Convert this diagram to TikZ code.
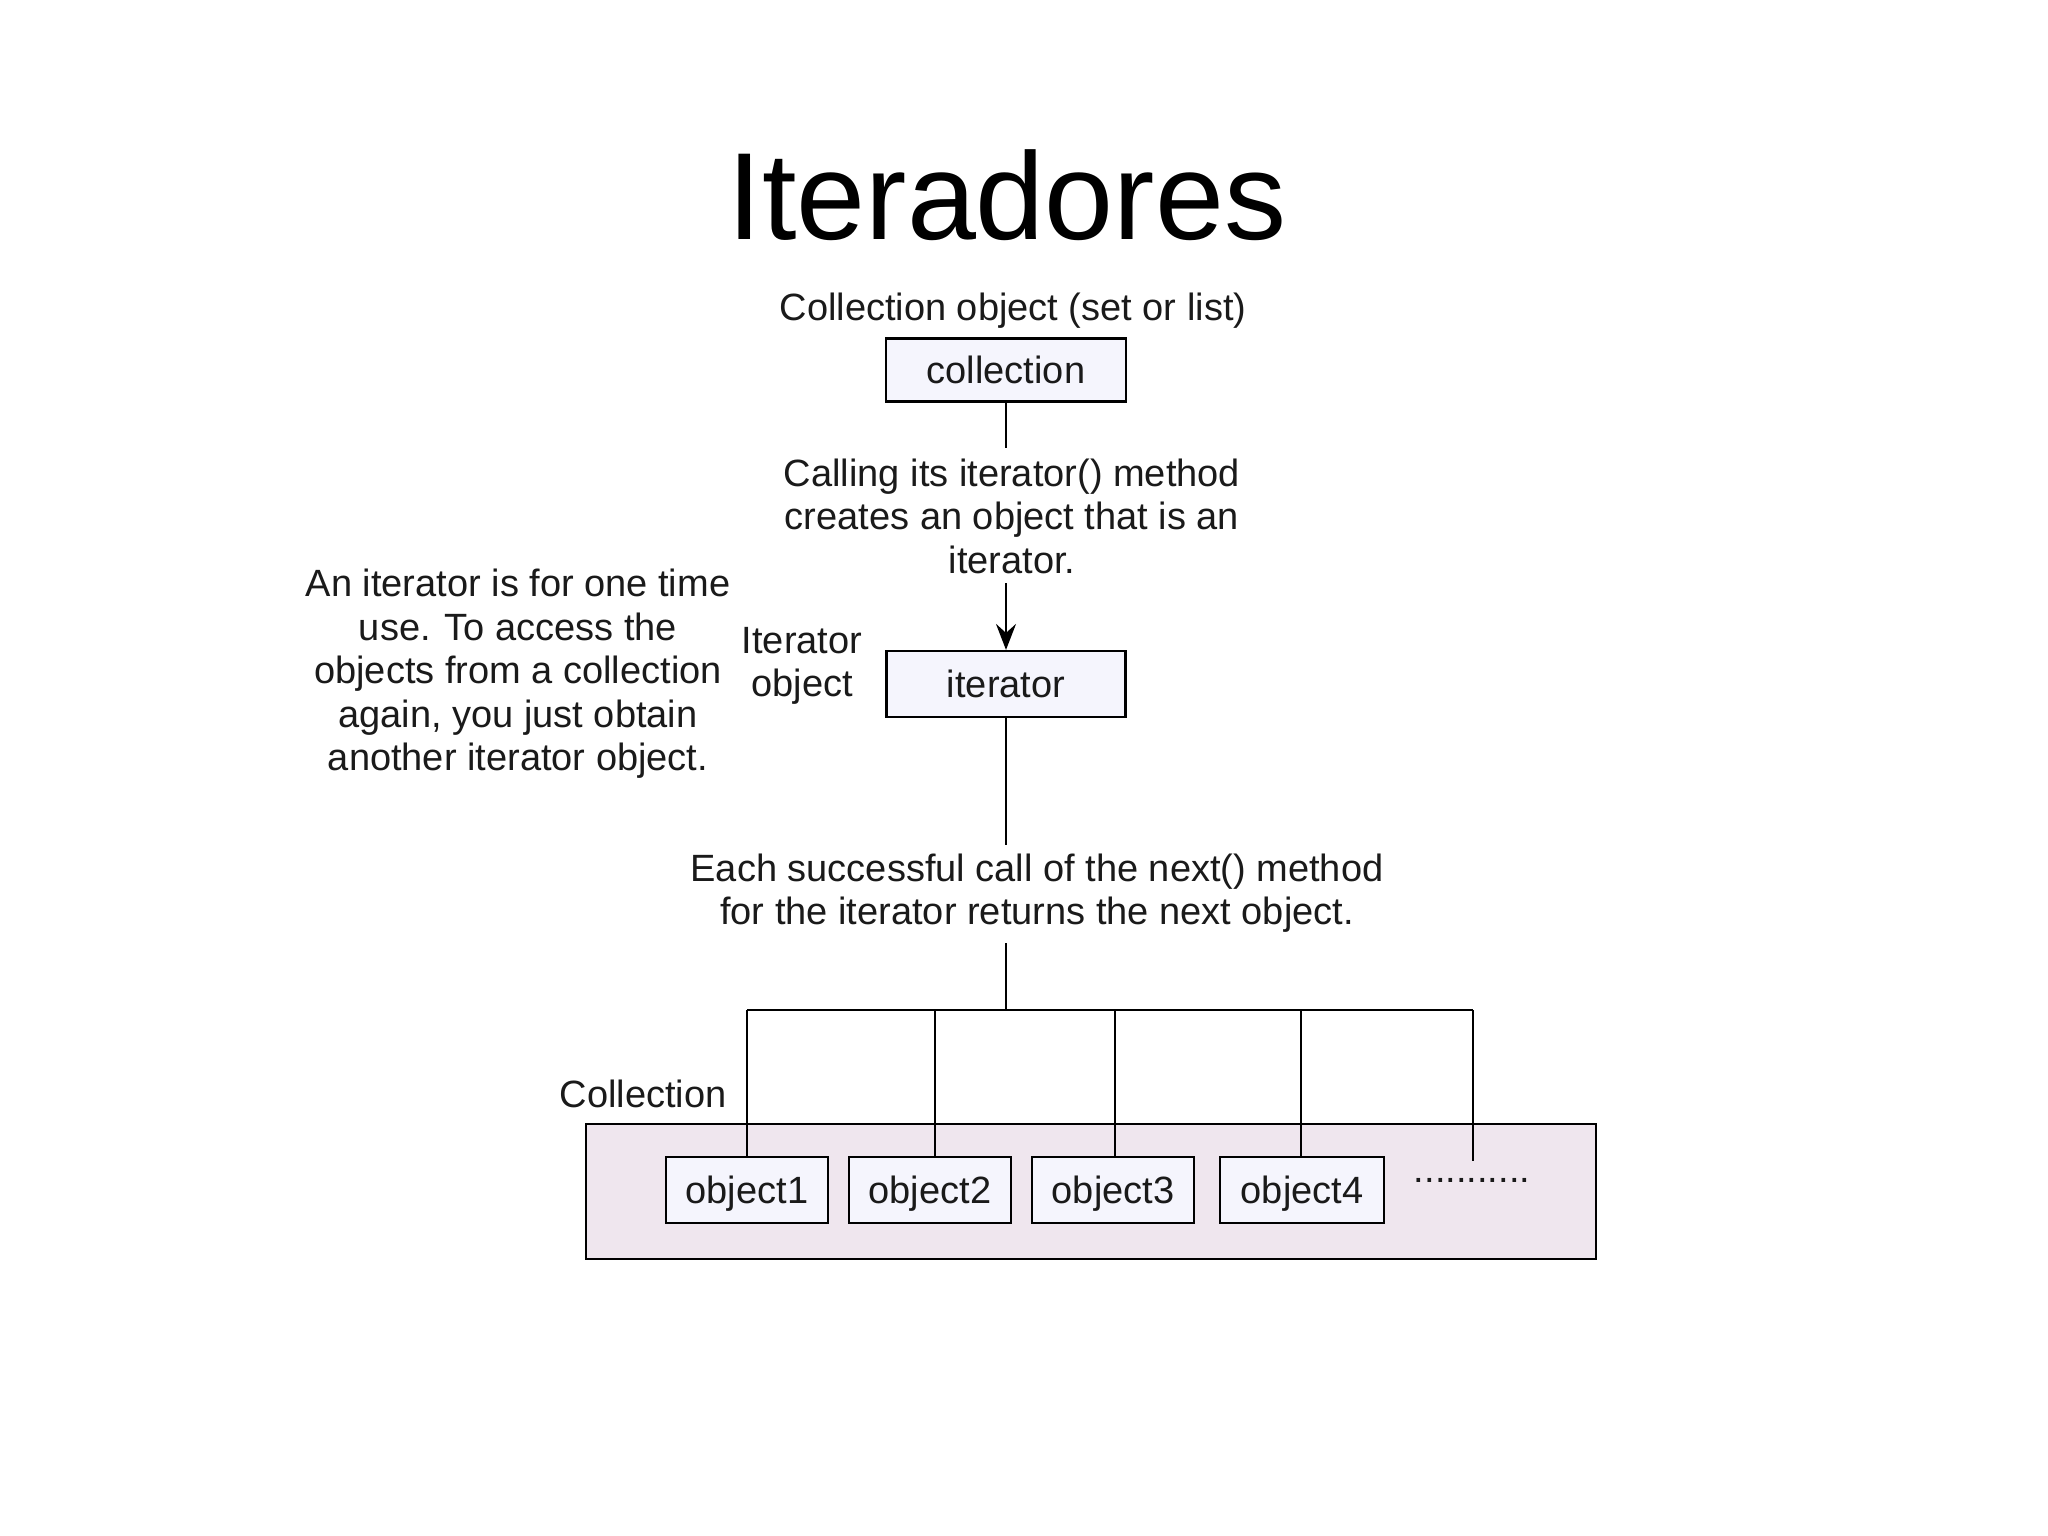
\documentclass[tikz,border=0pt]{standalone}
\usepackage{fontspec}
\setmainfont{Liberation Sans}
\usetikzlibrary{arrows.meta,calc}
\definecolor{boxfill}{HTML}{F5F5FD}
\definecolor{outerfill}{HTML}{EFE6EE}
\definecolor{ink}{HTML}{1A1A1A}
\begin{document}
\begin{tikzpicture}[x=1pt,y=-1pt,
  txt/.style={font=\fontsize{38}{43.5}\selectfont, text=ink, inner sep=0pt, align=center},
  objbox/.style={draw=black, line width=2.2pt, fill=boxfill, font=\fontsize{38}{43.5}\selectfont, text=ink, inner sep=0pt},
  conn/.style={draw=black, line width=2.2pt},
  ]
\useasboundingbox (0,0) rectangle (2048,1536);
\fill[white] (0,0) rectangle (2048,1536);

% title
\node[font=\fontsize{124}{130}\selectfont, inner sep=0pt, anchor=base] (title) at (1007,239) {Iteradores};

% top
\node[txt] (colllabel) at (1013,311) {Collection object (set or list)};
\node[objbox, minimum width=240pt, minimum height=63pt] (collection) at (1006,370) {collection};
\node[txt] (calltext) at (1012,516) {Calling its iterator() method\\creates an object that is an\\iterator.};
\node[objbox, minimum width=239pt, minimum height=66pt] (iterator) at (1006,684) {iterator};
\node[txt] (itlabel) at (802,666) {Iterator\\object};
\node[txt] (note) at (518,674) {An iterator is for one time\\use. To access the\\objects from a collection\\again, you just obtain\\another iterator object.};
\node[txt] (nexttext) at (1037,893) {Each successful call of the next() method\\for the iterator returns the next object.};

% collection box
\node[draw=black, line width=2.2pt, fill=outerfill, minimum width=1010pt, minimum height=135pt, inner sep=0pt] (outer) at (1091,1191.5) {};
\node[txt] (outerlabel) at (643,1094) {Collection};
\node[objbox, text depth=0pt, minimum width=162pt, minimum height=66pt] (obj1) at (747,1190) {object1};
\node[objbox, text depth=0pt, minimum width=162pt, minimum height=66pt] (obj2) at (930,1190) {object2};
\node[objbox, text depth=0pt, minimum width=162pt, minimum height=66pt] (obj3) at (1113,1190) {object3};
\node[objbox, text depth=0pt, minimum width=164pt, minimum height=66pt] (obj4) at (1302,1190) {object4};
\node[txt, anchor=base] (dots) at (1472,1182) {...........};

% connectors
\coordinate (c1) at (1006,448);
\coordinate (c2) at (1006,583);
\coordinate (c3) at (1006,845);
\coordinate (c4) at (1006,943);
\coordinate (bar) at (1006,1010);
\coordinate (barL) at (747,1010);
\coordinate (barR) at (1473,1010);
\coordinate (v2) at (935,1010);
\coordinate (v3) at (1115,1010);
\coordinate (v4) at (1301,1010);
\coordinate (dotend) at (1473,1161);
\draw[conn] (collection.south) -- (c1);
\draw[conn, -{Stealth[length=26pt,width=20pt,inset=9pt]}] (c2) -- (iterator.north);
\draw[conn] (iterator.south) -- (c3);
\draw[conn] (c4) -- (bar);
\draw[conn] (barL) -- (barR);
\draw[conn] (barL) -- (barL |- obj1.north);
\draw[conn] (v2) -- (v2 |- obj2.north);
\draw[conn] (v3) -- (v3 |- obj3.north);
\draw[conn] (v4) -- (v4 |- obj4.north);
\draw[conn] (barR) -- (dotend);
\end{tikzpicture}
\end{document}
